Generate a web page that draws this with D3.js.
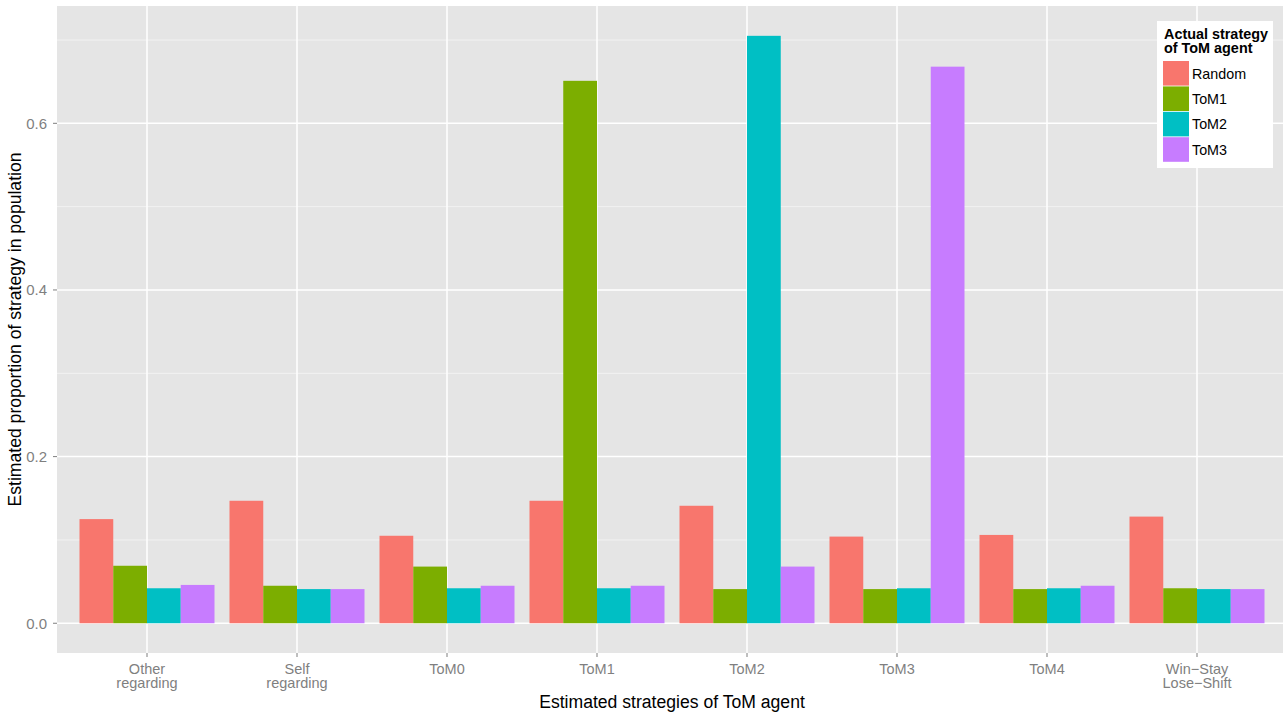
<!DOCTYPE html>
<html><head><meta charset="utf-8">
<script src="https://cdn.jsdelivr.net/npm/d3@7"></script>
<style>body{margin:0;background:#fff}svg{display:block}text{font-family:"Liberation Sans",Arial,Helvetica,sans-serif}</style>
</head><body>
<script>
const categories = ["Other\nregarding","Self\nregarding","ToM0","ToM1","ToM2","ToM3","ToM4","Win\u2212Stay\nLose\u2212Shift"];
const seriesNames = ["Random","ToM1","ToM2","ToM3"];
const seriesColors = ["#F8766D","#7CAE00","#00BFC4","#C77CFF"];
const valRandom = [0.125,0.147,0.105,0.147,0.141,0.104,0.106,0.128];
const valToM1   = [0.069,0.045,0.068,0.651,0.041,0.041,0.041,0.042];
const valToM2   = [0.042,0.041,0.042,0.042,0.705,0.042,0.042,0.041];
const valToM3   = [0.046,0.041,0.045,0.045,0.068,0.668,0.045,0.041];
const yTicks = [0.0,0.2,0.4,0.6];
const yMinor = [0.1,0.3,0.5,0.7];
const series = [valRandom,valToM1,valToM2,valToM3];

const W=1283,H=713;
const svg=d3.select("body").append("svg").attr("width",W).attr("height",H);
const P={l:57,t:6,r:1287,b:653};
const y=d3.scaleLinear().domain([-0.0357,0.7408]).range([P.b,P.t]);
const xi=d3.scaleLinear().domain([0.4,8.6]).range([P.l,P.r]);
const groupW = xi(0.9)-xi(0);
const cx = (i)=>xi(i+1);
const sub=d3.scaleBand().domain(seriesNames).range([-groupW/2,groupW/2]);

const g=svg.append("g");
g.append("rect").attr("x",P.l).attr("y",P.t).attr("width",P.r-P.l).attr("height",P.b-P.t).attr("fill","#E5E5E5");
g.selectAll(".ymin").data(yMinor).join("line").attr("x1",P.l).attr("x2",P.r).attr("y1",d=>y(d)).attr("y2",d=>y(d)).attr("stroke","#F2F2F2").attr("stroke-width",1);
g.selectAll(".ymaj").data(yTicks).join("line").attr("x1",P.l).attr("x2",P.r).attr("y1",d=>y(d)).attr("y2",d=>y(d)).attr("stroke","#fff").attr("stroke-width",1.5);
g.selectAll(".xmaj").data(categories).join("line").attr("x1",(d,i)=>cx(i)).attr("x2",(d,i)=>cx(i)).attr("y1",P.t).attr("y2",P.b).attr("stroke","#fff").attr("stroke-width",1.5);

seriesNames.forEach((s,si)=>{
  g.selectAll(".bar"+si).data(series[si]).join("rect")
   .attr("x",(d,i)=>cx(i)+sub(s)).attr("width",sub.bandwidth())
   .attr("y",d=>y(Math.max(0,d))).attr("height",d=>Math.abs(y(d)-y(0)))
   .attr("fill",seriesColors[si]);
});

// y axis
const ya=svg.append("g");
yTicks.forEach(t=>{
  ya.append("line").attr("x1",P.l-4).attr("x2",P.l).attr("y1",y(t)).attr("y2",y(t)).attr("stroke","#7F7F7F").attr("stroke-width",1);
  ya.append("text").attr("x",P.l-10).attr("y",y(t)).attr("dy","0.36em").attr("text-anchor","end").attr("font-size",15).attr("fill","#7F7F7F").text(t.toFixed(1));
});
// x axis
categories.forEach((c,i)=>{
  svg.append("line").attr("x1",cx(i)).attr("x2",cx(i)).attr("y1",P.b).attr("y2",P.b+4).attr("stroke","#7F7F7F");
  const lines=c.split("\n");
  const t=svg.append("text").attr("text-anchor","middle").attr("font-size",14.5).attr("fill","#7F7F7F");
  lines.forEach((l,k)=>t.append("tspan").attr("x",cx(i)).attr("y",674+k*14).text(l));
});
svg.append("text").attr("x",672).attr("y",708).attr("text-anchor","middle").attr("font-size",17.6).attr("fill","#000").text("Estimated strategies of ToM agent");
svg.append("text").attr("transform",`translate(21,${(P.t+P.b)/2}) rotate(-90)`).attr("text-anchor","middle").attr("font-size",17.6).attr("fill","#000").text("Estimated proportion of strategy in population");

// legend
const L=svg.append("g");
L.append("rect").attr("x",1157).attr("y",21).attr("width",116).attr("height",147).attr("fill","#fff");
L.append("text").attr("x",1164).attr("y",38.5).attr("font-size",14.4).attr("font-weight","bold").text("Actual strategy");
L.append("text").attr("x",1164).attr("y",52.5).attr("font-size",14.4).attr("font-weight","bold").text("of ToM agent");
seriesNames.forEach((s,i)=>{
  const yy=61+i*25.4;
  L.append("rect").attr("x",1163).attr("y",yy).attr("width",26).attr("height",24.6).attr("fill",seriesColors[i]);
  L.append("text").attr("x",1192).attr("y",yy+12.5).attr("dy","0.36em").attr("font-size",14.3).text(s);
});
</script>
</body></html>
